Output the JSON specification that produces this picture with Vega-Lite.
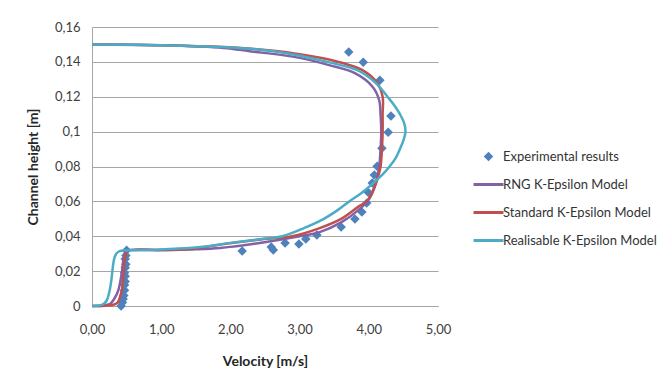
{
  "$schema": "https://vega.github.io/schema/vega-lite/v6.json",
  "width": 346,
  "height": 279,
  "autosize": {"type": "none"},
  "padding": {"left": 92, "top": 27, "right": 227, "bottom": 77},
  "background": "white",
  "config": {
    "view": {"stroke": null},
    "font": "Lato",
    "axis": {"labelFont": "Lato", "titleFont": "Lato", "labelColor": "#404040", "titleColor": "#262626", "labelFontSize": 13, "titleFontSize": 14, "titleFontWeight": "bold", "labelFlush": false, "labelOverlap": false}
  },
  "datasets": {
    "exp": [
      {"v": 0.42, "h": 0.0}, {"v": 0.44, "h": 0.002}, {"v": 0.45, "h": 0.004}, {"v": 0.46, "h": 0.006},
      {"v": 0.47, "h": 0.009}, {"v": 0.47, "h": 0.012}, {"v": 0.48, "h": 0.014}, {"v": 0.48, "h": 0.017},
      {"v": 0.47, "h": 0.019}, {"v": 0.48, "h": 0.022}, {"v": 0.49, "h": 0.024}, {"v": 0.48, "h": 0.027},
      {"v": 0.49, "h": 0.029}, {"v": 0.5, "h": 0.032},
      {"v": 2.17, "h": 0.0315}, {"v": 2.59, "h": 0.0338}, {"v": 2.62, "h": 0.0321}, {"v": 2.79, "h": 0.0361},
      {"v": 2.99, "h": 0.0355}, {"v": 3.09, "h": 0.0384}, {"v": 3.25, "h": 0.0407}, {"v": 3.6, "h": 0.0453},
      {"v": 3.8, "h": 0.0499}, {"v": 3.9, "h": 0.0539}, {"v": 3.97, "h": 0.059}, {"v": 3.99, "h": 0.0653},
      {"v": 4.05, "h": 0.0705}, {"v": 4.08, "h": 0.0751}, {"v": 4.12, "h": 0.0802}, {"v": 4.19, "h": 0.0905},
      {"v": 4.28, "h": 0.0997}, {"v": 4.32, "h": 0.1089}, {"v": 4.16, "h": 0.1295}, {"v": 3.92, "h": 0.1398},
      {"v": 3.71, "h": 0.1456}
    ],
    "rng": [
      {"v": 0, "h": 0}, {"v": 0.15, "h": 0.0002}, {"v": 0.22, "h": 0.0007}, {"v": 0.27, "h": 0.0015},
      {"v": 0.32, "h": 0.004}, {"v": 0.38, "h": 0.009}, {"v": 0.43, "h": 0.019}, {"v": 0.46, "h": 0.028},
      {"v": 0.49, "h": 0.0315}, {"v": 1.0, "h": 0.032}, {"v": 1.5, "h": 0.0325}, {"v": 1.85, "h": 0.0333},
      {"v": 2.4, "h": 0.036}, {"v": 3.0, "h": 0.04}, {"v": 3.29, "h": 0.0424}, {"v": 3.6, "h": 0.048},
      {"v": 3.85, "h": 0.055}, {"v": 4.0, "h": 0.061}, {"v": 4.1, "h": 0.07}, {"v": 4.15, "h": 0.08},
      {"v": 4.17, "h": 0.09}, {"v": 4.18, "h": 0.1}, {"v": 4.17, "h": 0.11}, {"v": 4.15, "h": 0.118},
      {"v": 4.06, "h": 0.1255}, {"v": 3.8, "h": 0.1335}, {"v": 3.44, "h": 0.138}, {"v": 2.9, "h": 0.143},
      {"v": 2.3, "h": 0.146}, {"v": 1.9, "h": 0.148}, {"v": 1.0, "h": 0.1495}, {"v": 0, "h": 0.15}
    ],
    "std": [
      {"v": 0, "h": 0}, {"v": 0.2, "h": 0.0002}, {"v": 0.3, "h": 0.0006}, {"v": 0.37, "h": 0.002},
      {"v": 0.4, "h": 0.0046}, {"v": 0.43, "h": 0.009}, {"v": 0.45, "h": 0.015}, {"v": 0.46, "h": 0.021},
      {"v": 0.47, "h": 0.026}, {"v": 0.49, "h": 0.03}, {"v": 0.5, "h": 0.0315}, {"v": 1.0, "h": 0.0322},
      {"v": 1.5, "h": 0.033}, {"v": 1.85, "h": 0.0352}, {"v": 2.4, "h": 0.038}, {"v": 2.89, "h": 0.04},
      {"v": 3.29, "h": 0.0447}, {"v": 3.6, "h": 0.05}, {"v": 3.85, "h": 0.057}, {"v": 3.97, "h": 0.06},
      {"v": 4.08, "h": 0.068}, {"v": 4.14, "h": 0.075}, {"v": 4.17, "h": 0.08}, {"v": 4.19, "h": 0.09},
      {"v": 4.2, "h": 0.1}, {"v": 4.2, "h": 0.11}, {"v": 4.2, "h": 0.12}, {"v": 4.12, "h": 0.128},
      {"v": 3.92, "h": 0.135}, {"v": 3.44, "h": 0.1412}, {"v": 2.9, "h": 0.145}, {"v": 2.3, "h": 0.1475},
      {"v": 1.9, "h": 0.1485}, {"v": 1.0, "h": 0.1495}, {"v": 0, "h": 0.15}
    ],
    "real": [
      {"v": 0, "h": 0}, {"v": 0.1, "h": 0.0003}, {"v": 0.16, "h": 0.001}, {"v": 0.21, "h": 0.003},
      {"v": 0.25, "h": 0.008}, {"v": 0.28, "h": 0.015}, {"v": 0.3, "h": 0.022}, {"v": 0.32, "h": 0.027},
      {"v": 0.35, "h": 0.03}, {"v": 0.4, "h": 0.0315}, {"v": 0.8, "h": 0.032}, {"v": 1.2, "h": 0.0328},
      {"v": 1.6, "h": 0.034}, {"v": 2.0, "h": 0.0362}, {"v": 2.4, "h": 0.0382}, {"v": 2.75, "h": 0.04},
      {"v": 3.07, "h": 0.0448}, {"v": 3.35, "h": 0.05}, {"v": 3.55, "h": 0.055}, {"v": 3.72, "h": 0.06},
      {"v": 3.9, "h": 0.065}, {"v": 4.05, "h": 0.07}, {"v": 4.19, "h": 0.075}, {"v": 4.3, "h": 0.08},
      {"v": 4.39, "h": 0.085}, {"v": 4.45, "h": 0.09}, {"v": 4.5, "h": 0.095}, {"v": 4.53, "h": 0.1},
      {"v": 4.51, "h": 0.105}, {"v": 4.45, "h": 0.11}, {"v": 4.37, "h": 0.115}, {"v": 4.27, "h": 0.12},
      {"v": 4.17, "h": 0.125}, {"v": 4.04, "h": 0.13}, {"v": 3.85, "h": 0.135}, {"v": 3.4, "h": 0.14},
      {"v": 2.89, "h": 0.1444}, {"v": 2.3, "h": 0.1475}, {"v": 1.92, "h": 0.1484}, {"v": 1.0, "h": 0.1495},
      {"v": 0, "h": 0.15}
    ]
  },
  "encoding": {
    "x": {
      "field": "v", "type": "quantitative",
      "scale": {"domain": [0, 5], "nice": false, "zero": false},
      "axis": {
        "title": "Velocity [m/s]", "values": [0, 1, 2, 3, 4, 5], "grid": false, "ticks": false,
        "domain": true, "domainColor": "#A6A6A6", "labelPadding": 17, "titlePadding": 18,
        "labelExpr": "replace(format(datum.value, '.2f'), '.', ',')"
      }
    },
    "y": {
      "field": "h", "type": "quantitative",
      "scale": {"domain": [0, 0.16], "nice": false, "zero": false},
      "axis": {
        "title": "Channel height [m]", "values": [0, 0.02, 0.04, 0.06, 0.08, 0.1, 0.12, 0.14, 0.16],
        "grid": true, "gridColor": "#A6A6A6", "gridWidth": 1, "ticks": false,
        "domain": true, "domainColor": "#A6A6A6", "labelPadding": 12, "titlePadding": 14,
        "labelExpr": "replace(format(datum.value, '~g'), '.', ',')"
      }
    },
    "color": {
      "field": "s", "type": "nominal",
      "scale": {
        "domain": ["Experimental results", "RNG K-Epsilon Model", "Standard K-Epsilon Model", "Realisable K-Epsilon Model"],
        "range": ["#4F81BD", "#7F62A8", "#C0504D", "#4BACC6"]
      },
      "legend": {
        "orient": "none", "legendX": 390, "legendY": 123, "title": null,
        "symbolType": "stroke", "symbolSize": 900, "symbolStrokeWidth": 3, "symbolOpacity": 1,
        "labelFont": "Lato", "labelFontSize": 13, "labelColor": "#333333", "labelOffset": 8, "labelLimit": 300,
        "rowPadding": 14,
        "encode": {
          "symbols": {
            "update": {
              "shape": {"signal": "datum.value === 'Experimental results' ? 'diamond' : 'stroke'"},
              "size": {"signal": "datum.value === 'Experimental results' ? 90 : 900"},
              "fill": {"signal": "datum.value === 'Experimental results' ? scale('color', datum.value) : 'transparent'"},
              "stroke": {"signal": "datum.value === 'Experimental results' ? 'transparent' : scale('color', datum.value)"},
              "strokeWidth": {"signal": "datum.value === 'Experimental results' ? 0 : 3"},
              "opacity": {"value": 1}
            }
          }
        }
      }
    }
  },
  "layer": [
    {
      "data": {"name": "exp"},
      "transform": [{"calculate": "'Experimental results'", "as": "s"}],
      "mark": {"type": "point", "shape": "diamond", "filled": true, "size": 90, "opacity": 1, "strokeWidth": 0}
    },
    {
      "data": {"name": "rng"},
      "transform": [{"calculate": "'RNG K-Epsilon Model'", "as": "s"}],
      "mark": {"type": "line", "strokeWidth": 2.5, "interpolate": "catmull-rom"},
      "encoding": {"order": {"field": "h", "type": "quantitative"}}
    },
    {
      "data": {"name": "std"},
      "transform": [{"calculate": "'Standard K-Epsilon Model'", "as": "s"}],
      "mark": {"type": "line", "strokeWidth": 2.5, "interpolate": "catmull-rom"},
      "encoding": {"order": {"field": "h", "type": "quantitative"}}
    },
    {
      "data": {"name": "real"},
      "transform": [{"calculate": "'Realisable K-Epsilon Model'", "as": "s"}],
      "mark": {"type": "line", "strokeWidth": 2.5, "interpolate": "catmull-rom"},
      "encoding": {"order": {"field": "h", "type": "quantitative"}}
    }
  ]
}
